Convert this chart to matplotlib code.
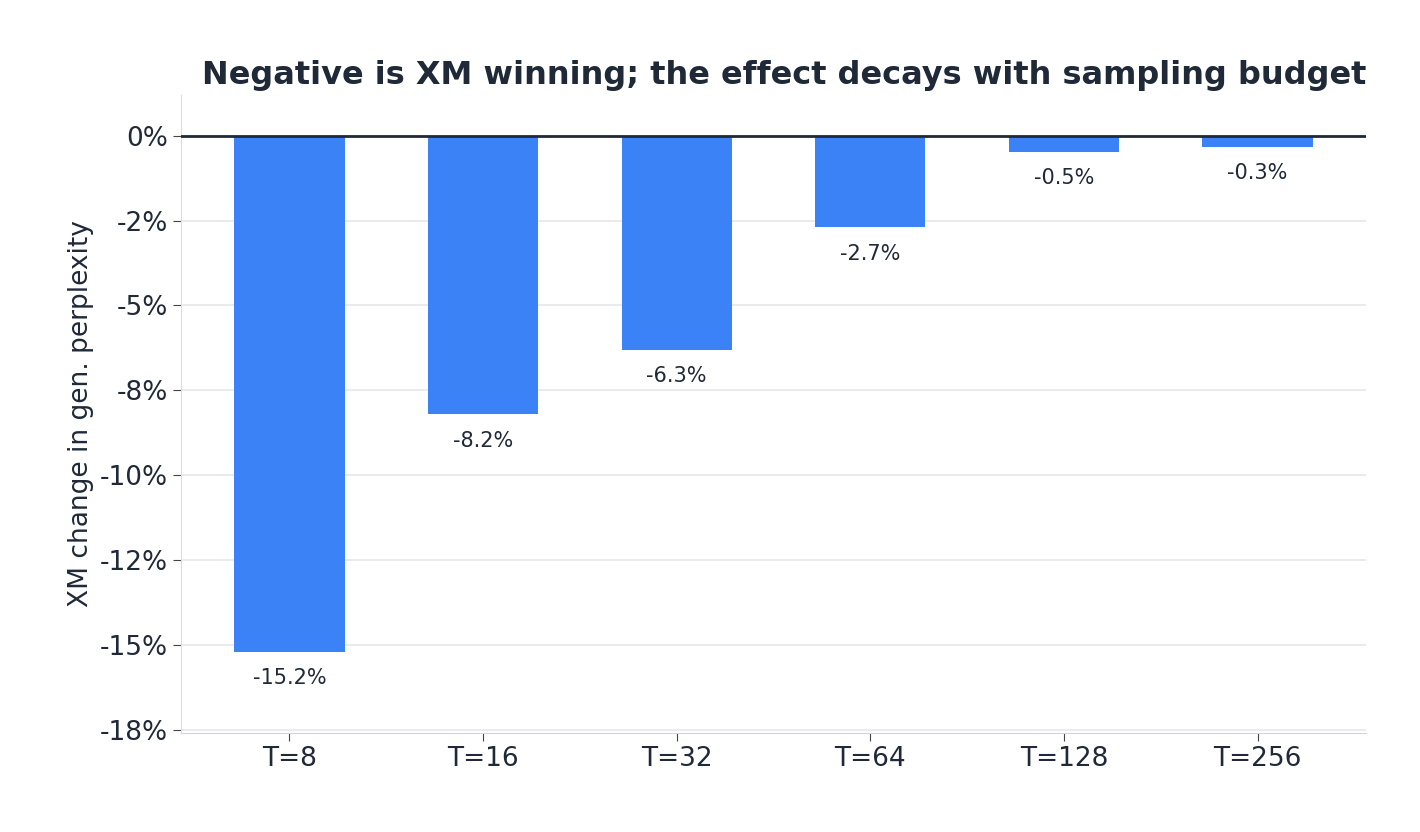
import matplotlib
matplotlib.use("Agg")
import matplotlib.pyplot as plt
import numpy as np

categories = ["T=8", "T=16", "T=32", "T=64", "T=128", "T=256"]
values = [-15.2, -8.2, -6.3, -2.7, -0.47, -0.32]
labels = ["-15.2%", "-8.2%", "-6.3%", "-2.7%", "-0.5%", "-0.3%"]

dark = "#1f2937"
fig = plt.figure(figsize=(14.2, 8.32), dpi=100)
ax = fig.add_axes([181/1420, 1-733/832, (1366-181)/1420, (733-95)/832])
x = np.arange(len(categories))
ax.bar(x, values, width=0.57, color="#3b82f6", zorder=3)
for xi, v, l in zip(x, values, labels):
    ax.annotate(l, (xi, v), xytext=(0, -12), textcoords="offset points",
                ha="center", va="top", fontsize=15, color=dark)
ax.axhline(0, color=dark, lw=2, zorder=4)
ax.set_xlim(-0.56, 5.56)
ax.set_ylim(-17.6, 1.2)
ticks = np.arange(0, -17.6, -2.5)
ax.set_yticks(ticks)
ax.set_yticklabels(["{:.0f}%".format(t) if t != 0 else "0%" for t in ticks])
ax.set_xticks(x)
ax.set_xticklabels(categories)
ax.tick_params(labelsize=19, colors=dark, length=6)
ax.tick_params(axis="both", color="#444444")
ax.grid(axis="y", color="#e5e7eb", lw=1.2, zorder=0)
for s in ["top", "right"]:
    ax.spines[s].set_visible(False)
ax.spines["left"].set_color("#dddddd")
ax.spines["bottom"].set_color("#d1d5db")
ax.set_ylabel("XM change in gen. perplexity", fontsize=19, color=dark)
ax.set_title("Negative is XM winning; the effect decays with sampling budget",
             fontsize=23, fontweight="bold", color=dark, loc="right", pad=8)
fig.savefig("out.png", dpi=100)
